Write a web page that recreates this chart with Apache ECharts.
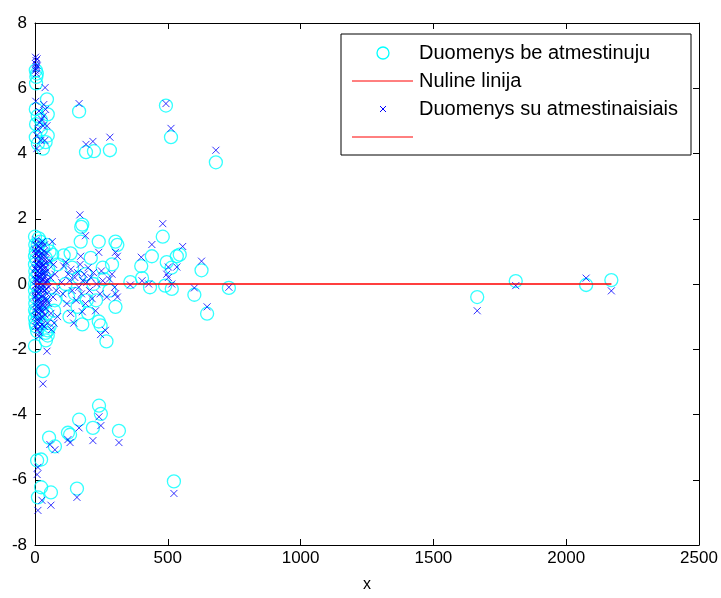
<!DOCTYPE html>
<html>
<head>
<meta charset="utf-8">
<script src="https://cdn.jsdelivr.net/npm/echarts@6/dist/echarts.min.js"></script>
<style>html,body{margin:0;padding:0;background:#fff;}#c{width:721px;height:598px;}</style>
</head>
<body>
<div id="c"></div>
<script>
// ---- data ----
var xTicks = [0, 500, 1000, 1500, 2000, 2500];
var yTicks = [-8, -6, -4, -2, 0, 2, 4, 6, 8];
var legendNames = ['Duomenys be atmestinuju', 'Nuline linija', 'Duomenys su atmestinaisiais', ''];
var zeroLineX = [0, 2170];
var zeroLineY = [0, 0];

// "Duomenys be atmestinuju" (circles)
var circlesTop = [[3,6.55],[5,6.35],[4,6.15],[7,6.45],[45,5.66],[166,5.29],[493,5.47],[512,4.5],[681,3.73],[192,4.04],[222,4.07],[282,4.1],
  [3,5.36],[4,4.9],[3,4.5],[11,4.3],[30,4.15],[48,5.2],[48,4.55],[22,5.03],[22,4.73],[40,4.35],[10,5.15]];
var circlesMid = [[0,1.45],[14,1.4],[3,1.0],[0,0.6],[2,0.2],[0,-0.2],[1,-0.6],[0,-1.05],[4,-1.3],[10,1.2],[20,1.3],[30,1.1],[45,1.2],[55,1.0],
  [40,0.8],[25,0.5],[35,0.2],[50,0.45],[15,-0.3],[30,-0.6],[45,-0.9],[55,-1.3],[25,-1.2],[40,-1.5],[48,-1.42],[48,-1.58],[41,-1.73],[0,-1.9],
  [65,0.9],[75,-0.5],[72,-0.82],[60,-0.1],[85,0.6],[10,-1.0],[20,-0.9],
  [1,1.2],[0,0.85],[1,0.4],[0,0.0],[1,-0.4],[0,-0.8],[2,-1.2],[5,0.75],[6,-0.05],[5,-0.85],[12,0.3],[18,-0.55],[8,-1.45],
  [108,0.88],[134,0.94],[115,0.0],[125,-0.4],[140,0.5],[150,-0.3],[160,-0.7],[172,1.3],[174,1.75],[178,1.82],[178,-1.24],[190,0.3],[200,-0.9],
  [210,0.8],[220,0.0],[230,-0.5],[240,1.3],[240,-1.15],[247,-1.27],[255,0.5],[269,-1.76],[280,-0.2],[303,1.3],[310,1.2],[303,-0.7],[290,0.6],
  [195,-0.5],[165,0.2],[130,-1.0],[260,0.15],
  [359,0.06],[400,0.55],[403,0.18],[433,-0.1],[440,0.85],[481,1.45],[496,0.67],[490,-0.05],[514,0.5],[515,-0.15],[534,0.85],[545,0.9],
  [600,-0.33],[627,0.42],[648,-0.91],[730,-0.12],[1665,-0.4],[1810,0.09],[2075,-0.03],[2170,0.12]];
var circlesLow = [[30,-2.67],[241,-3.73],[248,-3.98],[166,-4.16],[218,-4.41],[316,-4.5],[124,-4.56],[132,-4.62],[53,-4.71],[75,-4.98],
  [8,-5.41],[23,-5.38],[23,-6.23],[11,-6.54],[60,-6.39],[158,-6.27],[523,-6.05]];

// "Duomenys su atmestinaisiais" (crosses)
var crossesTop = [[2,6.95],[4,6.85],[3,6.75],[6,6.65],[2,6.55],[5,6.45],[8,6.9],[7,6.7],[4,6.6],[38,6.02],[166,5.53],[493,5.53],[512,4.77],
  [681,4.1],[192,4.28],[218,4.37],[282,4.5],
  [3,5.6],[15,5.3],[33,5.5],[25,5.05],[11,4.75],[30,4.85],[45,4.85],[7,4.55],[22,4.4],[37,4.4],[33,5.15],[7,4.15],[18,4.95],[40,5.35]];
var crossesMid = [[2,1.2],[5,0.9],[8,0.6],[3,0.3],[6,0.1],[4,-0.2],[9,-0.5],[2,-0.8],[7,-1.1],[12,1.0],[15,0.7],[11,0.4],[14,0.2],[10,-0.1],
  [13,-0.3],[16,-0.6],[12,-0.9],[18,-1.3],[20,1.1],[22,0.8],[19,0.5],[24,0.3],[21,0.0],[23,-0.2],[25,-0.4],[20,-0.7],[26,-1.0],[28,1.3],
  [30,0.9],[32,0.6],[29,0.35],[31,0.15],[33,-0.05],[30,-0.35],[34,-0.55],[28,-0.85],[36,1.2],[38,0.75],[40,0.5],[37,0.25],[42,-0.15],
  [39,-0.45],[41,-0.75],[44,0.95],[46,0.4],[48,0.1],[45,-0.3],[50,-0.6],[47,-1.2],[55,0.7],[58,0.2],[52,-0.1],[60,-0.9],[65,1.3],[70,0.6],
  [68,-0.4],[62,-1.4],[75,0.3],[80,-0.2],[72,-1.2],[1,0.5],[1,-0.4],[3,-1.3],[5,1.35],[17,-1.5],[9,0.0],[6,-0.7],[35,-1.3],[43,0.1],
  [27,0.55],[10,-1.4],[15,-1.6],[45,-2.06],
  [1,1.05],[3,0.75],[2,0.45],[4,0.15],[1,-0.05],[3,-0.35],[5,-0.6],[2,-1.0],[6,0.6],[8,0.25],[7,-0.25],[9,-0.85],[11,0.85],[13,0.55],
  [10,0.1],[12,-0.45],[14,-0.75],[16,1.15],[17,0.35],[18,0.05],[16,-0.15],[19,-1.05],[22,1.25],[23,0.6],[21,0.2],[24,-0.55],[26,0.95],
  [27,0.1],[29,-0.15],[25,-0.8],[31,0.45],[33,0.8],[32,-0.65],[35,0.35],[36,-0.2],[38,-0.95],[34,1.0],[40,0.05],[42,0.65],[44,-0.5],
  [8,-1.2],[4,0.95],[26,-1.25],[14,-1.15],
  [108,0.55],[116,0.67],[125,0.3],[130,0.1],[135,0.45],[140,-0.2],[146,-1.2],[134,-0.9],[150,0.2],[155,-0.5],[160,0.35],[165,-0.1],
  [170,0.6],[172,0.85],[175,-0.3],[180,0.1],[178,-0.85],[185,0.3],[190,1.48],[190,-0.6],[195,0.05],[200,0.5],[205,-0.2],[210,0.2],
  [215,-0.45],[220,0.35],[228,-0.82],[232,0.0],[240,0.97],[245,-0.3],[250,0.4],[255,0.1],[247,-1.55],[265,-1.42],[270,-0.4],[280,0.15],
  [290,0.3],[300,-0.1],[303,-0.3],[303,0.97],[310,0.85],[310,-0.4],[169,2.12],[120,-0.6],[100,0.05],[105,-0.3],[85,-1.0],
  [359,-0.03],[400,0.82],[403,0.1],[428,0.0],[440,1.21],[481,1.85],[496,0.3],[502,0.52],[502,0.2],[515,0.0],[534,0.52],[556,1.15],
  [600,-0.12],[627,0.7],[648,-0.7],[730,-0.1],[1665,-0.82],[1810,-0.05],[2075,0.18],[2170,-0.21]];
var crossesLow = [[30,-3.06],[241,-4.07],[248,-4.34],[166,-4.41],[218,-4.8],[316,-4.86],[124,-4.77],[132,-4.86],[56,-4.92],[75,-5.08],
  [11,-5.62],[8,-5.84],[26,-6.63],[60,-6.78],[11,-6.94],[158,-6.54],[523,-6.42]];

// ---- chart ----
var circleData = circlesTop.concat(circlesMid, circlesLow);
var crossData = crossesTop.concat(crossesMid, crossesLow);
var zeroLine = zeroLineX.map(function (x, i) { return [x, zeroLineY[i]]; });

var FONT = '"Liberation Sans", Arial, sans-serif';
var CROSS = 'path://M0,0L10,10M10,0L0,10';
var chart = echarts.init(document.getElementById('c'), null, { renderer: 'canvas' });

var axisCommon = {
  min: 0, max: 2500, interval: 500,
  axisLine: { show: true, onZero: false, lineStyle: { color: '#000', width: 1 } },
  axisTick: { show: true, inside: true, length: 6, lineStyle: { color: '#000' } },
  splitLine: { show: false }
};
function plain(v) { return String(v); }

var lx = 341, ly = 34, rowY = [53, 81, 109, 137];
var legendGraphic = [
  { type: 'rect', shape: { x: lx, y: ly, width: 350, height: 121 }, style: { fill: '#fff', stroke: '#000', lineWidth: 1 }, z: 100 },
  { type: 'circle', shape: { cx: 383, cy: rowY[0], r: 6 }, style: { fill: 'none', stroke: '#00ffff', lineWidth: 1.3 }, z: 101 },
  { type: 'line', shape: { x1: 352, y1: rowY[1], x2: 413, y2: rowY[1] }, style: { stroke: '#ff0000', lineWidth: 1 }, z: 101 },
  { type: 'polyline', shape: { points: [[380, rowY[2] - 3], [386, rowY[2] + 3]] }, style: { stroke: '#0000ff', lineWidth: 1 }, z: 101 },
  { type: 'polyline', shape: { points: [[386, rowY[2] - 3], [380, rowY[2] + 3]] }, style: { stroke: '#0000ff', lineWidth: 1 }, z: 101 },
  { type: 'line', shape: { x1: 352, y1: rowY[3], x2: 413, y2: rowY[3] }, style: { stroke: '#ff0000', lineWidth: 1 }, z: 101 }
];
legendNames.forEach(function (n, i) {
  if (n) legendGraphic.push({ type: 'text', x: 419, y: rowY[i], style: { text: n, fill: '#000', font: '20px ' + FONT, verticalAlign: 'middle' }, z: 101 });
});

chart.setOption({
  animation: false,
  backgroundColor: '#fff',
  grid: { left: 35, right: 22, top: 23, bottom: 50, containLabel: false },
  xAxis: [
    Object.assign({}, axisCommon, {
      type: 'value', position: 'bottom', name: 'x', nameLocation: 'middle', nameGap: 32,
      nameTextStyle: { color: '#000', fontFamily: FONT, fontSize: 16 },
      axisLabel: { color: '#000', fontFamily: FONT, fontSize: 17, margin: 5, formatter: plain }
    }),
    Object.assign({}, axisCommon, { type: 'value', position: 'top', axisLabel: { show: false } })
  ],
  yAxis: [
    Object.assign({}, axisCommon, {
      type: 'value', min: yTicks[0], max: yTicks[yTicks.length - 1], interval: 2, position: 'left',
      axisLabel: { color: '#000', fontFamily: FONT, fontSize: 17, margin: 8, formatter: plain }
    }),
    Object.assign({}, axisCommon, { type: 'value', min: yTicks[0], max: yTicks[yTicks.length - 1], interval: 2, position: 'right', axisLabel: { show: false } })
  ],
  series: [
    { name: legendNames[0], type: 'scatter', data: circleData, symbol: 'circle', symbolSize: 13,
      itemStyle: { color: 'rgba(0,0,0,0)', borderColor: '#00ffff', borderWidth: 1.3 }, emphasis: { disabled: true }, z: 2 },
    { name: legendNames[1], type: 'line', data: zeroLine, symbol: 'none', lineStyle: { color: '#ff0000', width: 1.2 }, emphasis: { disabled: true }, z: 3 },
    { name: 'Duomenys su atmestinaisiais', type: 'scatter', data: crossData, symbol: CROSS, symbolSize: 7,
      itemStyle: { color: 'rgba(0,0,0,0)', borderColor: '#0000ff', borderWidth: 1 }, emphasis: { disabled: true }, z: 4 },
    { name: 'zero2', type: 'line', data: zeroLine, symbol: 'none', lineStyle: { color: '#ff0000', width: 1.2 }, emphasis: { disabled: true }, z: 5 }
  ],
  graphic: legendGraphic
});
</script>
</body>
</html>
